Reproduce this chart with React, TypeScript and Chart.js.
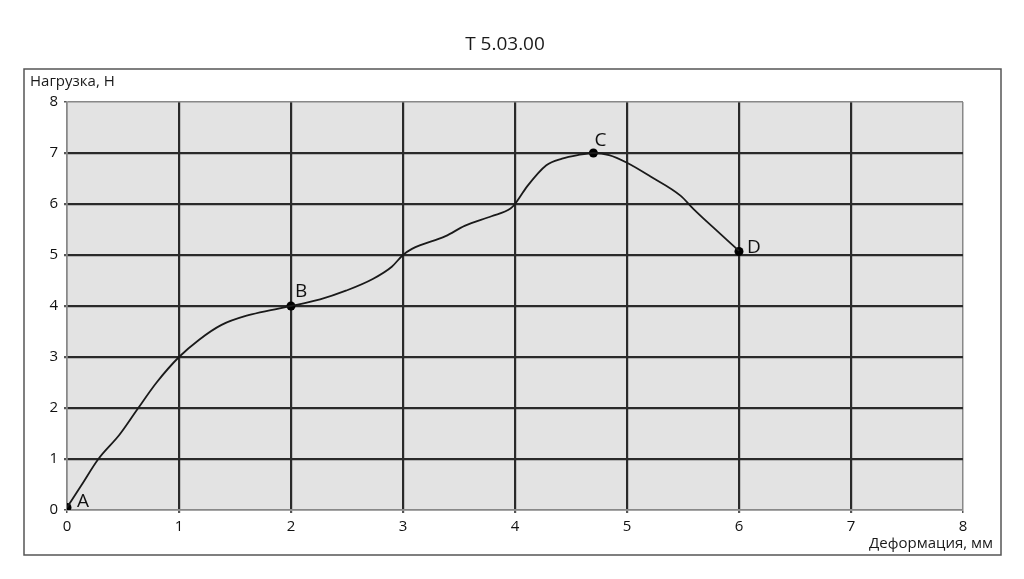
import React, { useEffect, useRef } from "react";
import { Chart, registerables } from "chart.js";

Chart.register(...registerables);

const chartTitle = "T 5.03.00";
const yAxisTitle = "Нагрузка, Н";
const xAxisTitle = "Деформация, мм";

const deformation = [0, 0.13, 0.28, 0.47, 0.63, 0.8, 1.0, 1.18, 1.38, 1.62, 1.82, 2.0, 2.26, 2.49, 2.73, 2.9, 3.0, 3.08, 3.38, 3.55, 3.79, 3.96, 4.0, 4.11, 4.28, 4.42, 4.56, 4.7, 4.84, 5.0, 5.21, 5.48, 5.59, 5.77, 6.0];
const load = [0.05, 0.49, 1.0, 1.48, 1.98, 2.5, 3.0, 3.34, 3.63, 3.82, 3.92, 4.0, 4.13, 4.3, 4.53, 4.77, 5.0, 5.12, 5.37, 5.57, 5.76, 5.91, 6.0, 6.35, 6.76, 6.89, 6.96, 7.0, 6.96, 6.81, 6.54, 6.16, 5.91, 5.54, 5.08];

const pointLabels = ["A", "B", "C", "D"];
const pointX = [0, 2, 4.7, 6];
const pointY = [0.05, 4.0, 7.0, 5.07];

const xTicks = [0, 1, 2, 3, 4, 5, 6, 7, 8];
const yTicks = [0, 1, 2, 3, 4, 5, 6, 7, 8];

const FONT = "'Open Sans', 'Noto Sans', sans-serif";

const decorPlugin = {
  id: "decor",
  beforeDraw(chart: any) {
    const { ctx, chartArea } = chart;
    ctx.save();
    ctx.fillStyle = "#ffffff";
    ctx.fillRect(0, 0, chart.width, chart.height);
    ctx.strokeStyle = "#555555";
    ctx.lineWidth = 1.5;
    ctx.strokeRect(24, 69, 977, 486);
    ctx.fillStyle = "#e3e3e3";
    ctx.fillRect(chartArea.left, chartArea.top, chartArea.right - chartArea.left, chartArea.bottom - chartArea.top);
    ctx.fillStyle = "#1a1a1a";
    ctx.font = `19px ${FONT}`;
    ctx.textAlign = "center";
    ctx.textBaseline = "alphabetic";
    ctx.fillText(chartTitle, 505, 50);
    ctx.font = `15px ${FONT}`;
    ctx.textAlign = "left";
    ctx.fillText(yAxisTitle, 30, 86);
    ctx.textAlign = "right";
    ctx.fillText(xAxisTitle, 993, 548);
    ctx.restore();
  },
  afterDatasetsDraw(chart: any) {
    const { ctx } = chart;
    const xs = chart.scales.x;
    const ys = chart.scales.y;
    const offsets = [
      [10, 0],
      [4, -9],
      [1, -7],
      [8, 2],
    ];
    ctx.save();
    ctx.fillStyle = "#111111";
    ctx.font = `19px ${FONT}`;
    ctx.textAlign = "left";
    ctx.textBaseline = "alphabetic";
    pointLabels.forEach((lbl, i) => {
      const px = xs.getPixelForValue(pointX[i]);
      const py = ys.getPixelForValue(pointY[i]);
      ctx.fillText(lbl, px + offsets[i][0], py + offsets[i][1]);
    });
    ctx.restore();
  },
};

const gridColor = (c: any) => {
  const v = c.tick ? c.tick.value : 0;
  return v === 0 || v === 8 ? "#888888" : "#2a2a2a";
};
const gridWidth = (c: any) => {
  const v = c.tick ? c.tick.value : 0;
  return v === 0 || v === 8 ? 1.5 : 2.2;
};

export default function App() {
  const ref = useRef<HTMLCanvasElement | null>(null);

  useEffect(() => {
    if (!ref.current) return;
    const chart = new Chart(ref.current, {
      type: "scatter",
      data: {
        datasets: [
          {
            data: deformation.map((x, i) => ({ x, y: load[i] })),
            showLine: true,
            borderColor: "#1a1a1a",
            borderWidth: 1.8,
            pointRadius: 0,
            tension: 0.3,
            cubicInterpolationMode: "monotone",
          } as any,
          {
            data: pointX.map((x, i) => ({ x, y: pointY[i] })),
            showLine: false,
            pointRadius: 4.5,
            pointBackgroundColor: "#000000",
            pointBorderColor: "#000000",
            pointBorderWidth: 0,
          },
        ],
      },
      options: {
        animation: false,
        responsive: false,
        layout: { padding: { left: 30, right: 61, top: 102, bottom: 0 } },
        plugins: {
          legend: { display: false },
          title: { display: false },
          tooltip: { enabled: false },
        },
        scales: {
          x: {
            type: "linear",
            min: 0,
            max: 8,
            afterBuildTicks: (s: any) => {
              s.ticks = xTicks.map((v) => ({ value: v }));
            },
            afterFit: (s: any) => {
              s.height = 69;
            },
            grid: {
              color: gridColor,
              lineWidth: gridWidth,
              tickLength: 3,
              tickColor: "#555555",
            },
            border: { display: true, color: "#888888", width: 1.5 },
            ticks: {
              color: "#111111",
              font: { family: FONT, size: 15 },
              padding: 5,
              maxRotation: 0,
            },
          },
          y: {
            type: "linear",
            min: 0,
            max: 8,
            afterBuildTicks: (s: any) => {
              s.ticks = yTicks.map((v) => ({ value: v }));
            },
            afterFit: (s: any) => {
              s.width = 37;
            },
            grid: {
              color: gridColor,
              lineWidth: gridWidth,
              tickLength: 3,
              tickColor: "#555555",
            },
            border: { display: true, color: "#888888", width: 1.5 },
            ticks: {
              color: "#111111",
              font: { family: FONT, size: 15 },
              padding: 6,
            },
          },
        },
      },
      plugins: [decorPlugin],
    });
    return () => chart.destroy();
  }, []);

  return (
    <div style={{ position: "fixed", left: 0, top: 0, width: 1024, height: 579, background: "#fff" }}>
      <canvas ref={ref} width={1024} height={579} style={{ display: "block", width: 1024, height: 579 }} />
    </div>
  );
}
